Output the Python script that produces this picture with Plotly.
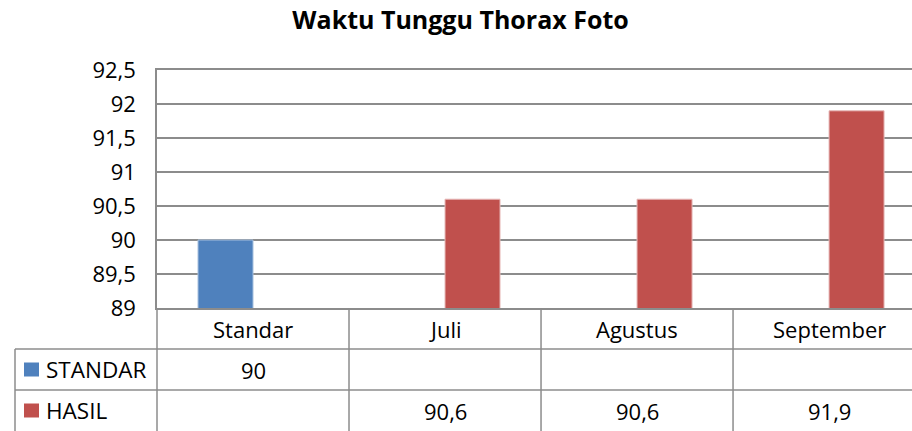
import plotly.graph_objects as go

categories = ["Standar", "Juli", "Agustus", "September"]
standar_values = [90, None, None, None]
hasil_values = [None, 90.6, 90.6, 91.9]
series_names = ["STANDAR", "HASIL"]
y_ticks = [89, 89.5, 90, 90.5, 91, 91.5, 92, 92.5]

BLUE = "#4F81BD"
RED = "#C0504D"
GRID = "#8C8C8C"
FONT = "Open Sans"
FS = 22

W, H = 912, 431
ML, MT, MB = 157, 70, 123
plot_h = H - MT - MB
plot_w = W - ML


def py(px):
    """pixel row -> paper y"""
    return (H - MB - px) / plot_h


def pxx(px):
    return (px - ML) / plot_w


fig = go.Figure()
fig.add_trace(go.Bar(x=categories, y=standar_values, name=series_names[0],
                     marker=dict(color=BLUE, line=dict(color="#A7C0DE", width=1))))
fig.add_trace(go.Bar(x=categories, y=hasil_values, name=series_names[1],
                     marker=dict(color=RED, line=dict(color="#E6B9B8", width=1))))

shapes = []
line = dict(color=GRID, width=1.5)
row1, row2, row3 = py(349), py(390), py(433)
# horizontal table lines
for yy in (row1, row2):
    shapes.append(dict(type="line", xref="paper", yref="paper", x0=pxx(15), x1=1, y0=yy, y1=yy, line=line))
# left border of table
shapes.append(dict(type="line", xref="paper", yref="paper", x0=pxx(15), x1=pxx(15), y0=row1, y1=row3, line=line))
# plot-left line through table
shapes.append(dict(type="line", xref="paper", yref="paper", x0=0, x1=0, y0=0, y1=row3, line=line))
# category dividers
for i in range(len(categories) - 1):
    shapes.append(dict(type="line", xref="x", yref="paper", x0=i + 0.5, x1=i + 0.5, y0=0, y1=row3, line=line))

annotations = []
font = dict(family=FONT, size=FS, color="#000000")
rc_hdr = (py(308) + row1) / 2
rc1 = (row1 + row2) / 2
rc2 = (row2 + py(431)) / 2
for i, c in enumerate(categories):
    annotations.append(dict(x=i, y=rc_hdr, xref="x", yref="paper", text=c, showarrow=False,
                            yanchor="middle", font=font))
for rc, vals in ((rc1, standar_values), (rc2, hasil_values)):
    for i, v in enumerate(vals):
        if v is not None:
            annotations.append(dict(x=i, y=rc, xref="x", yref="paper", yanchor="middle",
                                    text=f"{v:g}".replace(".", ","), showarrow=False, font=font))
# legend keys
for rc, name, col in ((rc1, series_names[0], BLUE), (rc2, series_names[1], RED)):
    shapes.append(dict(type="rect", xref="paper", yref="paper", x0=pxx(24), x1=pxx(39),
                       y0=rc - 7 / plot_h, y1=rc + 7 / plot_h, fillcolor=col, line=dict(width=0)))
    annotations.append(dict(x=pxx(44), y=rc, xref="paper", yref="paper", text=name, showarrow=False,
                            xanchor="left", yanchor="middle", font=dict(family=FONT, size=22.5, color="#000000")))

fig.update_layout(
    width=W, height=H,
    margin=dict(l=ML, r=0, t=MT, b=MB),
    paper_bgcolor="white", plot_bgcolor="white",
    separators=", ",
    showlegend=False,
    barmode="group", bargap=0.427, bargroupgap=0,
    title=dict(text="<b>Waktu Tunggu Thorax Foto</b>", x=0.505, xanchor="center", y=0.953, yanchor="middle",
               font=dict(family=FONT, size=25, color="#000000")),
    font=dict(family=FONT, size=FS, color="#000000"),
    shapes=shapes, annotations=annotations,
)
fig.update_xaxes(range=[-0.5, 3.432], showticklabels=False, showgrid=False,
                 showline=True, mirror=True, linecolor=GRID, linewidth=1.5, fixedrange=True)
fig.update_yaxes(range=[89, 92.5], tickvals=y_ticks, showgrid=True, gridcolor=GRID, gridwidth=1.5,
                 showline=True, linecolor=GRID, linewidth=1.5, zeroline=False, fixedrange=True,
                 ticks="", ticklabelstandoff=15, tickfont=dict(family=FONT, size=FS))

fig.write_html("out.html", config={"displayModeBar": False},
               post_script="document.body.style.margin='0';document.body.style.overflow='hidden';")
